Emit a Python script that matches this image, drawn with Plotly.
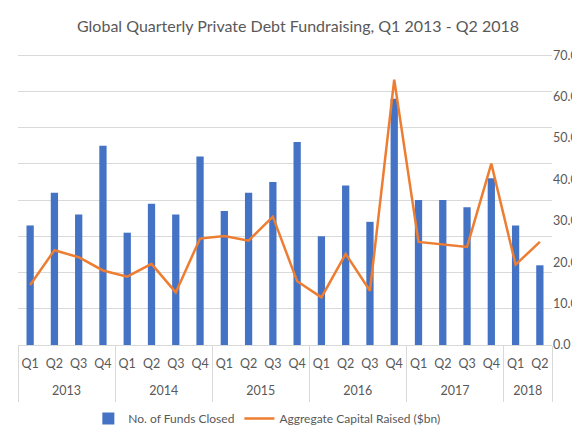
import plotly.graph_objects as go

# quarterly data, Q1 2013 - Q2 2018
years = ["2013"] * 4 + ["2014"] * 4 + ["2015"] * 4 + ["2016"] * 4 + ["2017"] * 4 + ["2018"] * 2
quarters = ["Q1", "Q2", "Q3", "Q4"] * 5 + ["Q1", "Q2"]
funds_closed = [33, 42, 36, 55, 31, 39, 36, 52, 37, 42, 45, 56,
                30, 44, 34, 68, 40, 40, 38, 46, 33, 22]
capital_raised = [14.5, 22.9, 21.2, 18.0, 16.5, 19.6, 12.7, 25.7, 26.3, 25.2, 31.0, 15.4,
                  11.5, 22.0, 13.1, 64.1, 24.9, 24.3, 23.7, 43.8, 19.4, 24.9]

font = "Lato, 'Open Sans', sans-serif"
grey = "#595959"
light = "#d9d9d9"

# position of each quarter, year group centres and group boundaries
n = len(quarters)
pos = list(range(n))
year_names = list(dict.fromkeys(years))
year_centres = []
boundaries = [-0.5]
for yr in year_names:
    idx = [i for i, v in enumerate(years) if v == yr]
    year_centres.append(sum(idx) / len(idx))
    boundaries.append(idx[-1] + 0.5)
xr = [-0.5, n - 0.5]

# a little headroom so the top gridline is not on the plot edge
pad = 1.0075

fig = go.Figure()

fig.add_trace(go.Bar(
    x=pos,
    y=funds_closed,
    name="No. of Funds Closed",
    marker=dict(color="#4472C4", line=dict(width=0)),
))

fig.add_trace(go.Scatter(
    x=pos,
    y=capital_raised,
    name="Aggregate Capital Raised ($bn)",
    mode="lines",
    line=dict(color="#ED7D31", width=2.5),
    xaxis="x2",
    yaxis="y2",
))

fig.update_layout(
    width=580,
    height=435,
    title=dict(text="Global Quarterly Private Debt Fundraising, Q1 2013 - Q2 2018",
               x=0.5, xanchor="center", y=0.958, yanchor="middle",
               font=dict(family=font, size=16, color=grey)),
    font=dict(family=font, size=12, color=grey),
    paper_bgcolor="white",
    plot_bgcolor="white",
    margin=dict(l=10, r=27, t=45, b=93),
    bargap=0.7,
    # quarter labels
    xaxis=dict(range=xr, tickmode="array", tickvals=pos, ticktext=quarters, tickangle=0,
               showgrid=False, zeroline=False, showline=True,
               linecolor=light, ticks="", ticklabelstandoff=7,
               tickfont=dict(size=12.5, color=grey)),
    # year labels with group dividers
    xaxis2=dict(overlaying="x", anchor="y", side="bottom", range=xr, tickmode="array",
                tickvals=year_centres, ticktext=year_names, tickangle=0, showgrid=False,
                zeroline=False, showline=False, ticks="", ticklabelstandoff=36,
                tickfont=dict(size=12.5, color=grey),
                minor=dict(tickmode="array", tickvals=boundaries, ticks="outside",
                           ticklen=56, tickcolor=light, tickwidth=1, showgrid=False)),
    yaxis=dict(range=[0, 80 * pad], tickmode="linear", tick0=0, dtick=10,
               showticklabels=False, showgrid=True, gridcolor=light, gridwidth=1,
               zeroline=False),
    yaxis2=dict(range=[0, 70 * pad], tickmode="linear", tick0=0, dtick=10,
                tickformat=".1f", overlaying="y", anchor="x", side="right",
                showgrid=False, zeroline=False, ticks="",
                tickfont=dict(size=12.5, color=grey)),
    legend=dict(orientation="h", x=0.466, xanchor="center", y=-0.252, yanchor="middle",
                font=dict(size=12, color=grey), traceorder="normal"),
)

fig.write_html("out.html")
